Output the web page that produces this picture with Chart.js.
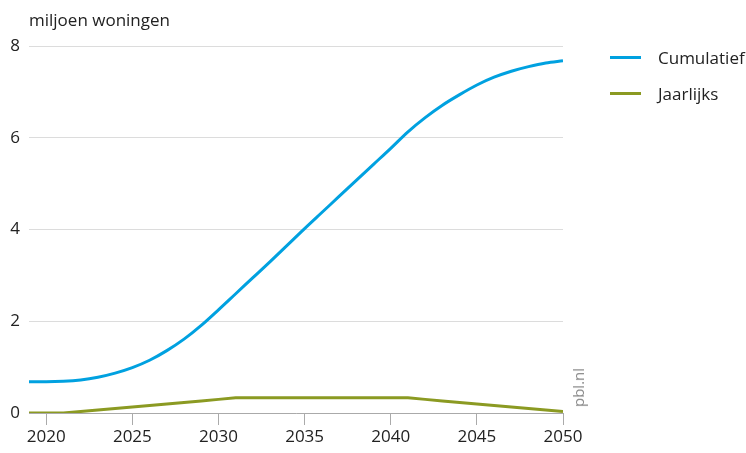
<!DOCTYPE html>
<html>
<head>
<meta charset="utf-8">
<script src="https://cdn.jsdelivr.net/npm/chart.js@4"></script>
<style>
  html, body { margin: 0; padding: 0; background: #fff; }
  #wrap { position: relative; width: 746px; height: 453px; font-family: "Open Sans", sans-serif; color: #222; }
  #c { position: absolute; left: 0; top: 0; }
  .ytitle { position: absolute; left: 29px; top: 8px; font-size: 17px; }
  .leg { position: absolute; left: 610px; font-size: 17px; display: flex; align-items: center; }
  .leg span.sw { display: inline-block; width: 31px; height: 3px; margin-right: 17px; }
  .src { position: absolute; left: 568px; top: 368px; font-size: 15px; color: #8a8a8a; writing-mode: vertical-rl; transform: rotate(180deg); }
</style>
</head>
<body>
<div id="wrap">
  <canvas id="c" width="746" height="453"></canvas>
  <div class="ytitle">miljoen woningen</div>
  <div class="leg" style="top:46px;"><span class="sw" style="background:#00a1e0"></span>Cumulatief</div>
  <div class="leg" style="top:82px;"><span class="sw" style="background:#8b9a22"></span>Jaarlijks</div>
  <div class="src">pbl.nl</div>
</div>
<script>
const years = [2019,2020,2021,2022,2023,2024,2025,2026,2027,2028,2029,2030,2031,2032,2033,2034,2035,2036,2037,2038,2039,2040,2041,2042,2043,2044,2045,2046,2047,2048,2049,2050];
const cumulatief = [0.68,0.68,0.69,0.72,0.78,0.87,0.99,1.15,1.36,1.61,1.91,2.25,2.60,2.95,3.30,3.66,4.02,4.37,4.72,5.07,5.42,5.77,6.13,6.44,6.71,6.94,7.15,7.32,7.45,7.55,7.63,7.68];
const jaarlijks = [0,0,0,0.033,0.066,0.099,0.132,0.165,0.198,0.231,0.264,0.297,0.33,0.33,0.33,0.33,0.33,0.33,0.33,0.33,0.33,0.33,0.33,0.297,0.264,0.231,0.198,0.165,0.132,0.099,0.066,0.033];
const xTicks = [2020,2025,2030,2035,2040,2045,2050];
const yTicks = [0,2,4,6,8];

const toXY = arr => arr.map((v, i) => ({ x: years[i], y: v }));

new Chart(document.getElementById('c'), {
  type: 'line',
  data: {
    datasets: [
      { label: 'Cumulatief', data: toXY(cumulatief), borderColor: '#00a1e0', borderWidth: 3, pointRadius: 0, cubicInterpolationMode: 'monotone', fill: false },
      { label: 'Jaarlijks', data: toXY(jaarlijks), borderColor: '#8b9a22', borderWidth: 3, pointRadius: 0, tension: 0, fill: false }
    ]
  },
  options: {
    responsive: false,
    animation: false,
    layout: { padding: { top: 46, right: 183, left: 0, bottom: 0 } },
    plugins: { legend: { display: false }, tooltip: { enabled: false } },
    scales: {
      x: {
        type: 'linear',
        min: 2019, max: 2050,
        afterBuildTicks: s => { s.ticks = xTicks.map(v => ({ value: v })); },
        afterFit: s => { s.height = 40; },
        grid: { drawOnChartArea: false, drawTicks: true, tickLength: 12, tickColor: '#aaaaaa' },
        border: { display: true, color: '#aaaaaa', width: 1 },
        ticks: { font: { family: 'Open Sans', size: 17 }, color: '#222', padding: 2, maxRotation: 0, callback: v => String(v) }
      },
      y: {
        min: 0, max: 8,
        afterBuildTicks: s => { s.ticks = yTicks.map(v => ({ value: v })); },
        afterFit: s => { s.width = 29; },
        grid: { color: '#dcdcdc', drawTicks: false, lineWidth: 1 },
        border: { display: false },
        ticks: { font: { family: 'Open Sans', size: 17 }, color: '#222', padding: 9 }
      }
    }
  }
});
</script>
</body>
</html>
